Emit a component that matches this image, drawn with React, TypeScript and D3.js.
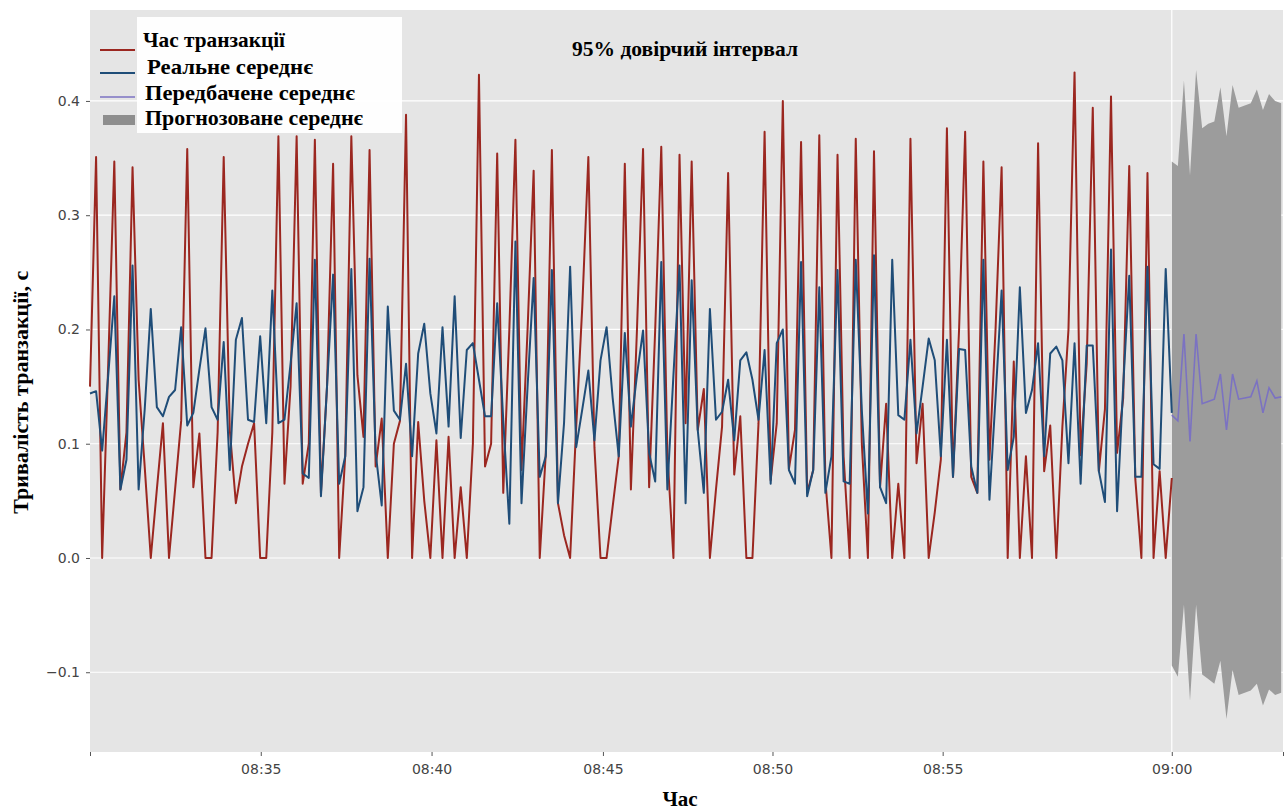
import React, { useEffect, useRef } from 'react';
import * as d3 from 'd3';

// observed transaction time, one sample per index
const transactionTime = [
  0.15, 0.351, 0.0, 0.17, 0.347, 0.06, 0.11, 0.342, 0.156, 0.08,
  0.0, 0.06, 0.118, 0.0, 0.06, 0.12, 0.358, 0.062, 0.109, 0.0,
  0.0, 0.11, 0.351, 0.112, 0.048, 0.08, 0.1, 0.118, 0.0, 0.0,
  0.11, 0.369, 0.065, 0.15, 0.369, 0.065, 0.1, 0.366, 0.057, 0.15,
  0.345, 0.0, 0.09, 0.369, 0.16, 0.106, 0.357, 0.08, 0.122, 0.0,
  0.1, 0.12, 0.388, 0.0, 0.119, 0.05, 0.0, 0.103, 0.0, 0.106,
  0.0, 0.062, 0.0, 0.1, 0.423, 0.08, 0.1, 0.354, 0.057, 0.2,
  0.366, 0.077, 0.2, 0.339, 0.0, 0.092, 0.357, 0.048, 0.02, 0.0,
  0.115, 0.22, 0.351, 0.097, 0.0, 0.0, 0.045, 0.089, 0.345, 0.06,
  0.2, 0.358, 0.062, 0.2, 0.36, 0.092, 0.0, 0.353, 0.118, 0.347,
  0.112, 0.148, 0.0, 0.06, 0.115, 0.337, 0.073, 0.124, 0.0, 0.0,
  0.118, 0.373, 0.068, 0.118, 0.4, 0.078, 0.112, 0.364, 0.057, 0.077,
  0.37, 0.068, 0.0, 0.353, 0.089, 0.0, 0.367, 0.1, 0.0, 0.356,
  0.062, 0.135, 0.0, 0.065, 0.0, 0.367, 0.083, 0.135, 0.0, 0.04,
  0.086, 0.376, 0.071, 0.2, 0.373, 0.071, 0.057, 0.347, 0.086, 0.2,
  0.342, 0.0, 0.172, 0.0, 0.089, 0.0, 0.363, 0.076, 0.116, 0.0,
  0.115, 0.2, 0.425, 0.09, 0.17, 0.394, 0.076, 0.13, 0.404, 0.092,
  0.14, 0.343, 0.069, 0.0, 0.337, 0.0, 0.076, 0.0, 0.07,
];

// real mean
const realMean = [
  0.144, 0.146, 0.094, 0.16, 0.229, 0.06, 0.086, 0.256, 0.06, 0.13,
  0.218, 0.132, 0.124, 0.141, 0.147, 0.202, 0.116, 0.127, 0.165, 0.201,
  0.132, 0.121, 0.189, 0.077, 0.191, 0.21, 0.121, 0.119, 0.194, 0.118,
  0.234, 0.118, 0.121, 0.17, 0.223, 0.074, 0.07, 0.261, 0.054, 0.15,
  0.248, 0.065, 0.089, 0.253, 0.041, 0.062, 0.262, 0.092, 0.046, 0.22,
  0.129, 0.121, 0.17, 0.089, 0.179, 0.205, 0.144, 0.109, 0.202, 0.115,
  0.229, 0.105, 0.182, 0.188, 0.156, 0.124, 0.124, 0.223, 0.12, 0.03,
  0.277, 0.048, 0.15, 0.245, 0.071, 0.089, 0.252, 0.048, 0.118, 0.255,
  0.097, 0.13, 0.164, 0.103, 0.173, 0.202, 0.14, 0.089, 0.197, 0.115,
  0.16, 0.199, 0.092, 0.067, 0.259, 0.06, 0.16, 0.256, 0.048, 0.243,
  0.112, 0.057, 0.218, 0.121, 0.128, 0.156, 0.103, 0.173, 0.18, 0.156,
  0.121, 0.182, 0.065, 0.188, 0.2, 0.077, 0.065, 0.259, 0.054, 0.077,
  0.237, 0.057, 0.089, 0.252, 0.067, 0.065, 0.261, 0.129, 0.039, 0.265,
  0.062, 0.048, 0.261, 0.125, 0.121, 0.191, 0.109, 0.15, 0.192, 0.173,
  0.089, 0.191, 0.071, 0.183, 0.182, 0.08, 0.057, 0.261, 0.051, 0.14,
  0.234, 0.077, 0.106, 0.237, 0.127, 0.147, 0.188, 0.089, 0.179, 0.185,
  0.173, 0.083, 0.188, 0.065, 0.186, 0.186, 0.076, 0.049, 0.27, 0.041,
  0.15, 0.247, 0.071, 0.071, 0.255, 0.082, 0.078, 0.253, 0.127,
];

// forecast, starting at index forecastStart
const forecastStart = 178;
const forecastMean = [
  0.125, 0.12, 0.196, 0.102, 0.196, 0.135, 0.137, 0.139, 0.161, 0.112,
  0.161, 0.139, 0.14, 0.141, 0.155, 0.127, 0.149, 0.14, 0.141,
];
const forecastUpper = [
  0.347, 0.343, 0.418, 0.335, 0.427, 0.376, 0.38, 0.382, 0.412, 0.369,
  0.414, 0.394, 0.396, 0.398, 0.41, 0.392, 0.406, 0.4, 0.398,
];
const forecastLower = [
  -0.094, -0.104, -0.041, -0.125, -0.041, -0.102, -0.106, -0.11, -0.09, -0.141,
  -0.098, -0.12, -0.118, -0.116, -0.11, -0.129, -0.115, -0.12, -0.118,
];

const xEnd = 196.3;
const tickIndex = [0, 28.1, 56.2, 84.4, 112.3, 140.3, 178, xEnd];
const tickLabels = ['', '08:35', '08:40', '08:45', '08:50', '08:55', '09:00', ''];
const yTicks = [-0.1, 0, 0.1, 0.2, 0.3, 0.4];
const legendLabels = ['Час транзакції', 'Реальне середнє', 'Передбачене середнє', 'Прогнозоване середнє'];

const RED = '#9b2720';
const BLUE = '#1f4d78';
const PURPLE = '#7b72c2';
const BAND = '#9c9c9c';
const SERIF = '"Liberation Serif", "DejaVu Serif", serif';
const SANS = '"DejaVu Sans", sans-serif';

function ForecastChart({ width = 1288, height = 812 }) {
  const ref = useRef<SVGSVGElement>(null);

  useEffect(() => {
    const svg = d3.select(ref.current);
    svg.selectAll('*').remove();

    const margin = { top: 10, right: 5, bottom: 60, left: 90 };
    const w = width - margin.left - margin.right;
    const h = height - margin.top - margin.bottom;

    const x = d3.scaleLinear().domain([0, xEnd]).range([0, w]);
    const y = d3.scaleLinear().domain([-0.1698, 0.4796]).range([h, 0]);

    svg.attr('width', width).attr('height', height);

    const g = svg.append('g').attr('transform', `translate(${margin.left},${margin.top})`);

    g.append('rect').attr('width', w).attr('height', h).attr('fill', '#e5e5e5');

    g.selectAll('.hgrid')
      .data(yTicks)
      .enter().append('line')
      .attr('class', 'hgrid')
      .attr('x1', 0).attr('x2', w)
      .attr('y1', d => y(d)).attr('y2', d => y(d))
      .attr('stroke', '#fff').attr('stroke-width', 1.2);

    g.append('line')
      .attr('x1', x(forecastStart)).attr('x2', x(forecastStart))
      .attr('y1', 0).attr('y2', h)
      .attr('stroke', '#fff').attr('stroke-width', 1.2);

    // confidence band
    const band = forecastMean.map((_, i) => ({
      i: forecastStart + i, lo: forecastLower[i], hi: forecastUpper[i],
    }));
    g.append('path')
      .datum(band)
      .attr('fill', BAND)
      .attr('d', d3.area<any>().x(d => x(d.i)).y0(d => y(d.lo)).y1(d => y(d.hi)));

    const line = d3.line<number>().x((_, i) => x(i)).y(d => y(d));

    g.append('path')
      .datum(transactionTime)
      .attr('fill', 'none').attr('stroke', RED).attr('stroke-width', 2)
      .attr('stroke-linejoin', 'round')
      .attr('d', line);

    g.append('path')
      .datum(realMean)
      .attr('fill', 'none').attr('stroke', BLUE).attr('stroke-width', 2)
      .attr('stroke-linejoin', 'round')
      .attr('d', line);

    g.append('path')
      .datum(forecastMean)
      .attr('fill', 'none').attr('stroke', PURPLE).attr('stroke-width', 1.6)
      .attr('d', d3.line<number>().x((_, i) => x(forecastStart + i)).y(d => y(d)));

    // axes
    const yAxis = g.append('g')
      .call(d3.axisLeft(y).tickValues(yTicks).tickFormat(d3.format('.1f')).tickSize(4).tickPadding(6));
    const xAxis = g.append('g')
      .attr('transform', `translate(0,${h})`)
      .call(d3.axisBottom(x).tickValues(tickIndex).tickFormat((_, i) => tickLabels[i]).tickSize(4).tickPadding(8));
    [xAxis, yAxis].forEach(ax => {
      ax.select('.domain').remove();
      ax.selectAll('line').attr('stroke', '#555');
      ax.selectAll('text').attr('fill', '#444').style('font-family', SANS).style('font-size', '14px');
    });

    // title
    g.append('text')
      .attr('x', 595).attr('y', 46)
      .attr('text-anchor', 'middle')
      .attr('textLength', 226).attr('lengthAdjust', 'spacingAndGlyphs')
      .style('font-family', SERIF).style('font-weight', 'bold').style('font-size', '21px')
      .text('95% довірчий інтервал');

    // legend
    const lg = g.append('g');
    lg.append('rect')
      .attr('x', 47).attr('y', 7).attr('width', 265).attr('height', 116)
      .attr('fill', '#fff').attr('opacity', 0.95);
    const handleY = [40, 63, 87, 110];
    const textX = [53, 57, 55, 55];
    const textY = [37, 64, 90, 115];
    const textW = [142, 166, 210, 218];
    legendLabels.forEach((label, i) => {
      if (i < 3) {
        lg.append('line')
          .attr('x1', 10).attr('x2', 45)
          .attr('y1', handleY[i]).attr('y2', handleY[i])
          .attr('stroke', [RED, BLUE, PURPLE][i]).attr('stroke-width', i === 2 ? 1.6 : 2.2);
      } else {
        lg.append('rect')
          .attr('x', 13).attr('y', handleY[i] - 5).attr('width', 32).attr('height', 10)
          .attr('fill', '#8e8e8e');
      }
      lg.append('text')
        .attr('x', textX[i]).attr('y', textY[i])
        .attr('textLength', textW[i]).attr('lengthAdjust', 'spacingAndGlyphs')
        .style('font-family', SERIF).style('font-weight', 'bold').style('font-size', '21px')
        .text(label);
    });

    // axis titles
    svg.append('text')
      .attr('text-anchor', 'middle')
      .attr('transform', `translate(28,${margin.top + y(0.145)}) rotate(-90)`)
      .attr('textLength', 243).attr('lengthAdjust', 'spacingAndGlyphs')
      .style('font-family', SERIF).style('font-weight', 'bold').style('font-size', '21px')
      .text('Тривалість транзакції, с');

    svg.append('text')
      .attr('text-anchor', 'middle')
      .attr('x', 680).attr('y', 806)
      .style('font-family', SERIF).style('font-weight', 'bold').style('font-size', '21px')
      .text('Час');
  }, []);

  return <svg ref={ref} style={{ position: 'absolute', left: 0, top: 0 }}></svg>;
}

export default function App() {
  return <ForecastChart />;
}
